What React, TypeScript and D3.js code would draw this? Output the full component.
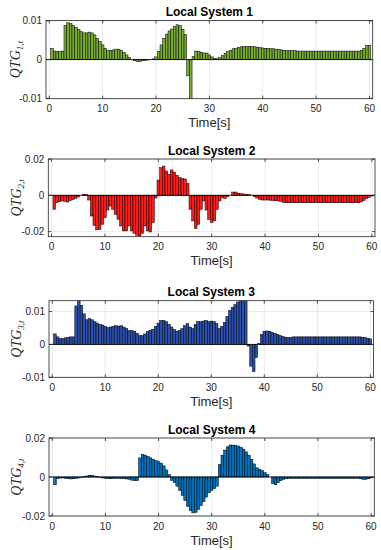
import React from 'react';
import * as d3 from 'd3';

// Time stamps of the bars (0.5 s sampling, 0.5 .. 60 s)
const times: number[] = d3.range(1, 121).map((i) => i * 0.5);

const xTicks = [0, 10, 20, 30, 40, 50, 60];

const titles = ['Local System 1', 'Local System 2', 'Local System 3', 'Local System 4'];
const subscripts = ['1,t', '2,t', '3,t', '4,t'];

const yTicks1 = [-0.01, 0, 0.01];
const yTickLabels1 = ['-0.01', '0', '0.01'];
const yTicks2 = [-0.02, 0, 0.02];
const yTickLabels2 = ['-0.02', '0', '0.02'];
const yTicks3 = [-0.01, 0, 0.01];
const yTickLabels3 = ['-0.01', '0', '0.01'];
const yTicks4 = [-0.02, 0, 0.02];
const yTickLabels4 = ['-0.02', '0', '0.02'];

const s1 = [
  0.0029, 0.0022, 0.0021, 0.0021, 0.0022, 0.0088, 0.0095, 0.0093, 0.0088, 0.0083,
  0.0078, 0.0072, 0.0069, 0.0069, 0.0071, 0.0069, 0.0064, 0.0055, 0.0047, 0.0038,
  0.0029, 0.0024, 0.0023, 0.0025, 0.0027, 0.0027, 0.0024, 0.0019, 0.0012, 0.0005,
  0.0000, -0.0003, -0.0005, -0.0005, -0.0003, -0.0002, -0.0001, 0.0000, 0.0002, 0.0007,
  0.0021, 0.0038, 0.0055, 0.0066, 0.0074, 0.0079, 0.0085, 0.0090, 0.0088, 0.0078,
  0.0065, -0.0042, -0.0103, 0.0008, 0.0022, 0.0021, 0.0019, 0.0017, 0.0017, 0.0012,
  0.0007, 0.0003, 0.0002, 0.0005, 0.0010, 0.0016, 0.0021, 0.0024, 0.0028, 0.0029,
  0.0031, 0.0033, 0.0034, 0.0034, 0.0034, 0.0034, 0.0033, 0.0032, 0.0031, 0.0030,
  0.0029, 0.0029, 0.0028, 0.0028, 0.0027, 0.0026, 0.0025, 0.0024, 0.0023, 0.0023,
  0.0023, 0.0023, 0.0022, 0.0022, 0.0022, 0.0022, 0.0022, 0.0022, 0.0022, 0.0022,
  0.0022, 0.0022, 0.0022, 0.0022, 0.0022, 0.0022, 0.0022, 0.0022, 0.0022, 0.0022,
  0.0022, 0.0022, 0.0022, 0.0022, 0.0022, 0.0022, 0.0024, 0.0029, 0.0036, 0.0036,
];

const s2 = [
  -0.0077, -0.0040, -0.0035, -0.0031, -0.0033, -0.0037, -0.0029, -0.0024, -0.0017, -0.0009,
  0.0000, 0.0005, 0.0005, -0.0026, -0.0114, -0.0165, -0.0190, -0.0187, -0.0160, -0.0123,
  -0.0081, -0.0059, -0.0077, -0.0105, -0.0132, -0.0169, -0.0196, -0.0196, -0.0169, -0.0196,
  -0.0209, -0.0220, -0.0224, -0.0209, -0.0169, -0.0196, -0.0202, -0.0150, -0.0015, 0.0084,
  0.0152, 0.0161, 0.0134, 0.0116, 0.0140, 0.0128, 0.0110, 0.0097, 0.0092, 0.0090,
  0.0066, -0.0077, -0.0141, -0.0183, -0.0160, -0.0077, -0.0031, -0.0081, -0.0132, -0.0150,
  -0.0141, -0.0077, -0.0031, -0.0013, -0.0018, -0.0007, 0.0000, 0.0018, 0.0018, 0.0011,
  0.0009, 0.0007, 0.0006, 0.0005, 0.0000, -0.0007, -0.0015, -0.0022, -0.0026, -0.0026,
  -0.0026, -0.0027, -0.0029, -0.0030, -0.0031, -0.0033, -0.0040, -0.0041, -0.0041, -0.0041,
  -0.0041, -0.0041, -0.0041, -0.0041, -0.0041, -0.0041, -0.0041, -0.0041, -0.0041, -0.0041,
  -0.0041, -0.0041, -0.0041, -0.0041, -0.0041, -0.0041, -0.0041, -0.0041, -0.0041, -0.0041,
  -0.0041, -0.0041, -0.0041, -0.0041, -0.0041, -0.0037, -0.0029, -0.0018, -0.0011, -0.0004,
];

const s3 = [
  0.0032, 0.0023, 0.0018, 0.0018, 0.0020, 0.0022, 0.0023, 0.0023, 0.0117, 0.0135,
  0.0119, 0.0093, 0.0075, 0.0079, 0.0075, 0.0069, 0.0065, 0.0061, 0.0059, 0.0055,
  0.0051, 0.0053, 0.0055, 0.0057, 0.0055, 0.0057, 0.0053, 0.0048, 0.0042, 0.0042,
  0.0040, 0.0034, 0.0027, 0.0027, 0.0032, 0.0040, 0.0043, 0.0046, 0.0055, 0.0065,
  0.0073, 0.0073, 0.0069, 0.0061, 0.0053, 0.0046, 0.0040, 0.0043, 0.0048, 0.0057,
  0.0063, 0.0053, 0.0048, 0.0061, 0.0069, 0.0069, 0.0071, 0.0073, 0.0069, 0.0071,
  0.0069, 0.0063, 0.0048, 0.0055, 0.0067, 0.0085, 0.0103, 0.0113, 0.0121, 0.0129,
  0.0135, 0.0135, 0.0135, -0.0005, -0.0066, -0.0083, -0.0040, 0.0003, 0.0030, 0.0040,
  0.0041, 0.0040, 0.0037, 0.0034, 0.0030, 0.0027, 0.0024, 0.0022, 0.0021, 0.0021,
  0.0023, 0.0023, 0.0023, 0.0023, 0.0023, 0.0023, 0.0023, 0.0023, 0.0023, 0.0023,
  0.0023, 0.0023, 0.0023, 0.0023, 0.0023, 0.0023, 0.0023, 0.0023, 0.0023, 0.0023,
  0.0023, 0.0023, 0.0023, 0.0023, 0.0023, 0.0023, 0.0022, 0.0021, 0.0019, 0.0017,
];

const s4 = [
  -0.0040, -0.0009, -0.0005, -0.0005, -0.0007, -0.0009, -0.0010, -0.0009, -0.0007, -0.0005,
  -0.0002, 0.0002, 0.0005, 0.0009, 0.0009, 0.0005, 0.0002, -0.0002, -0.0005, -0.0007,
  -0.0009, -0.0009, -0.0008, -0.0007, -0.0007, -0.0008, -0.0009, -0.0010, -0.0012, -0.0016,
  -0.0019, -0.0019, 0.0098, 0.0116, 0.0112, 0.0105, 0.0098, 0.0091, 0.0084, 0.0078,
  0.0071, 0.0057, 0.0036, 0.0012, -0.0017, -0.0029, -0.0047, -0.0069, -0.0095, -0.0121,
  -0.0150, -0.0172, -0.0184, -0.0181, -0.0167, -0.0147, -0.0126, -0.0103, -0.0081, -0.0069,
  -0.0060, -0.0047, 0.0064, 0.0112, 0.0138, 0.0155, 0.0164, 0.0164, 0.0162, 0.0159,
  0.0153, 0.0143, 0.0129, 0.0112, 0.0091, 0.0067, 0.0047, 0.0040, 0.0033, 0.0022,
  0.0012, 0.0000, -0.0034, -0.0040, -0.0029, -0.0019, -0.0012, -0.0009, -0.0007, -0.0007,
  -0.0007, -0.0007, -0.0007, -0.0007, -0.0007, -0.0007, -0.0007, -0.0007, -0.0007, -0.0007,
  -0.0007, -0.0007, -0.0007, -0.0007, -0.0007, -0.0007, -0.0007, -0.0007, -0.0007, -0.0007,
  -0.0007, -0.0007, -0.0007, -0.0007, -0.0007, -0.0009, -0.0012, -0.0012, -0.0009, -0.0005,
];

const seriesList = [s1, s2, s3, s4];
const yTickList = [yTicks1, yTicks2, yTicks3, yTicks4];
const yTickLabelList = [yTickLabels1, yTickLabels2, yTickLabels3, yTickLabels4];
const yDomains: [number, number][] = [
  [-0.0101, 0.0101],
  [-0.0228, 0.02],
  [-0.01, 0.0133],
  [-0.02, 0.02],
];
const xDomain: [number, number] = [-0.62, 60.6];

// layout (pixels)
const layout = [
  { l: 46, r: 372.7, t: 20.5, b: 98.7 },
  { l: 48.3, r: 375, t: 159, b: 236.7 },
  { l: 49, r: 373.5, t: 300.7, b: 377.3 },
  { l: 49, r: 374.3, t: 438, b: 516 },
];
const colors = ['#77AC30', '#FF1A1A', '#2B4FAF', '#0072BD'];

const sans = '"Liberation Sans", Arial, Helvetica, sans-serif';
const serif = '"Liberation Serif", "Times New Roman", serif';
const axisColor = '#262626';

function Panel({ idx }: { idx: number }) {
  const L = layout[idx];
  const values = seriesList[idx];
  const x = d3.scaleLinear().domain(xDomain).range([L.l, L.r]);
  const y = d3.scaleLinear().domain(yDomains[idx]).range([L.b, L.t]);
  const bw = x(0.5) - x(0);
  const clipId = `clip${idx}`;
  const midX = (L.l + L.r) / 2;
  const midY = (L.t + L.b) / 2;
  const tickLen = 3;
  return (
    <g>
      <defs>
        <clipPath id={clipId}>
          <rect x={L.l} y={L.t} width={L.r - L.l} height={L.b - L.t} />
        </clipPath>
      </defs>
      <rect x={L.l} y={L.t} width={L.r - L.l} height={L.b - L.t} fill="#fff" />
      {/* grid */}
      {xTicks.map((t) => (
        <line key={'gx' + t} x1={x(t)} x2={x(t)} y1={L.t} y2={L.b} stroke="#dcdcdc" strokeWidth={0.6} />
      ))}
      {yTickList[idx].map((t) => (
        <line key={'gy' + t} x1={L.l} x2={L.r} y1={y(t)} y2={y(t)} stroke="#dcdcdc" strokeWidth={0.6} />
      ))}
      {/* bars */}
      <g clipPath={`url(#${clipId})`}>
        {values.map((v, i) => {
          const cx = x(times[i]);
          const y0 = y(0);
          const yv = y(v);
          return (
            <rect
              key={i}
              x={cx - bw / 2}
              width={bw}
              y={Math.min(y0, yv)}
              height={Math.abs(yv - y0)}
              fill={colors[idx]}
              stroke="#000"
              strokeWidth={0.5}
            />
          );
        })}
        <line x1={L.l} x2={L.r} y1={y(0)} y2={y(0)} stroke="#000" strokeWidth={0.8} />
      </g>
      {/* box */}
      <rect x={L.l} y={L.t} width={L.r - L.l} height={L.b - L.t} fill="none" stroke={axisColor} strokeWidth={0.8} />
      {/* ticks */}
      {xTicks.map((t) => (
        <g key={'tx' + t}>
          <line x1={x(t)} x2={x(t)} y1={L.b} y2={L.b - tickLen} stroke={axisColor} strokeWidth={0.8} />
          <line x1={x(t)} x2={x(t)} y1={L.t} y2={L.t + tickLen} stroke={axisColor} strokeWidth={0.8} />
          <text x={x(t)} y={L.b + 13.5} fontSize={10} fontFamily={sans} fill={axisColor} textAnchor="middle">
            {t}
          </text>
        </g>
      ))}
      {yTickList[idx].map((t, j) => (
        <g key={'ty' + t}>
          <line x1={L.l} x2={L.l + tickLen} y1={y(t)} y2={y(t)} stroke={axisColor} strokeWidth={0.8} />
          <line x1={L.r} x2={L.r - tickLen} y1={y(t)} y2={y(t)} stroke={axisColor} strokeWidth={0.8} />
          <text x={L.l - 4} y={y(t) + 3.5} fontSize={10} fontFamily={sans} fill={axisColor} textAnchor="end">
            {yTickLabelList[idx][j]}
          </text>
        </g>
      ))}
      {/* title */}
      <text x={midX} y={L.t - 4.5} fontSize={12} fontWeight="bold" fontFamily={sans} fill="#000" textAnchor="middle">
        {titles[idx]}
      </text>
      {/* x label */}
      <text x={midX} y={L.b + 28.5} fontSize={13} fontFamily={sans} fill={axisColor} textAnchor="middle">
        Time[s]
      </text>
      {/* y label */}
      <text
        transform={`translate(${idx === 0 ? 20 : 21},${midY}) rotate(-90)`}
        fontSize={14}
        fontFamily={serif}
        fontStyle="italic"
        fill={axisColor}
        textAnchor="middle"
      >
        QTG
        <tspan fontSize={9} dy={3}>
          {subscripts[idx]}
        </tspan>
      </text>
    </g>
  );
}

export default function App() {
  return (
    <svg
      width={381}
      height={550}
      style={{ position: 'absolute', left: 0, top: 0, background: '#fff' }}
    >
      <rect x={0} y={0} width={381} height={550} fill="#fff" />
      {[0, 1, 2, 3].map((i) => (
        <Panel key={i} idx={i} />
      ))}
    </svg>
  );
}
